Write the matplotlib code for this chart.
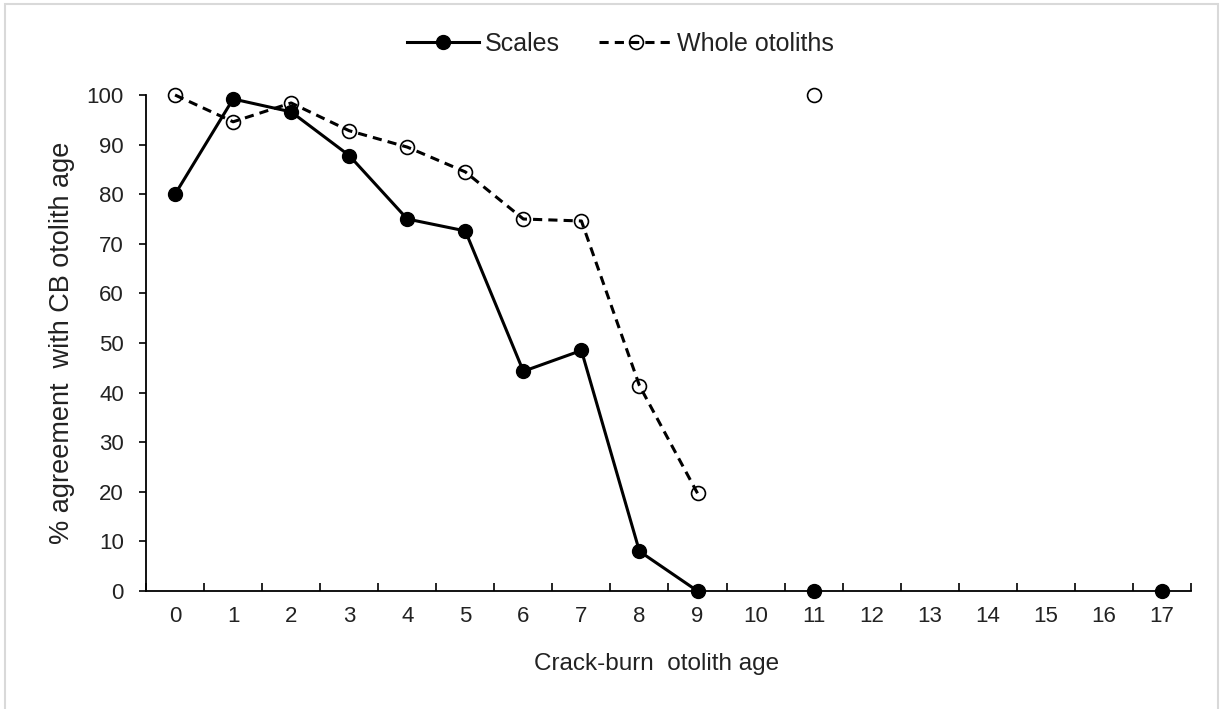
import numpy as np
import matplotlib.pyplot as plt
from matplotlib.patches import Rectangle

plt.rcParams['font.family'] = ['Liberation Sans', 'DejaVu Sans']

# crack-burn otolith age categories
ages = ['0', '1', '2', '3', '4', '5', '6', '7', '8', '9',
        '10', '11', '12', '13', '14', '15', '16', '17']
nan = np.nan
scales = [80, 99.2, 96.6, 87.8, 75, 72.6, 44.3, 48.5, 8, 0,
          nan, 0, nan, nan, nan, nan, nan, 0]
whole = [100, 94.6, 98.4, 92.8, 89.5, 84.5, 75, 74.6, 41.4, 19.7,
         nan, 100, nan, nan, nan, nan, nan, nan]

fig = plt.figure(figsize=(12.21, 7.09), dpi=100)
ax = fig.add_axes([0.1196, 0.1664, 0.8558, 0.6996])

x = np.arange(len(ages))
ax.plot(x, scales, color='black', lw=2.2, marker='o', ms=10,
        mfc='black', mec='black', label='Scales', clip_on=False, zorder=3)
ax.plot(x, whole, color='black', lw=2.2, ls=(0, (3, 2)), marker='o', ms=10,
        mfc='none', mec='black', mew=1.2, label='Whole otoliths', clip_on=False, zorder=3)

ax.set_xlim(-0.5, len(ages) - 0.5)
ax.set_ylim(0, 100)
ax.set_yticks(range(0, 101, 10))
ax.set_xticks(x)
ax.set_xticklabels(ages)
ax.set_xticks(np.arange(-0.5, len(ages), 1), minor=True)
ax.tick_params(axis='x', which='major', length=0, pad=11, labelsize=16, labelcolor='#222222')
ax.tick_params(axis='x', which='minor', direction='in', length=6, width=1.2)
ax.tick_params(axis='y', direction='out', length=5, width=1.2, pad=11,
               labelsize=16, labelcolor='#222222')

for side in ['top', 'right']:
    ax.spines[side].set_visible(False)
for side in ['left', 'bottom']:
    ax.spines[side].set_linewidth(1.3)

ax.set_xlabel('Crack-burn  otolith age', fontsize=17.5, color='#222222')
ax.xaxis.set_label_coords(0.489, -0.125)
ax.set_ylabel('% agreement  with CB otolith age', fontsize=19.5, color='#222222')
ax.yaxis.set_label_coords(-0.068, 0.5)

fig.legend(*ax.get_legend_handles_labels(), loc='center', bbox_to_anchor=(0.508, 0.938),
           ncol=2, frameon=False, fontsize=18, handlelength=2.9, handletextpad=0.2,
           columnspacing=1.6, labelcolor='#222222')

# light frame round the picture
fig.patches.append(Rectangle((5 / 1221, -0.02), 1213 / 1221, 1.0144, transform=fig.transFigure,
                             fill=False, edgecolor='#d9d9d9', lw=1.5))

fig.savefig('out.png', dpi=100)
